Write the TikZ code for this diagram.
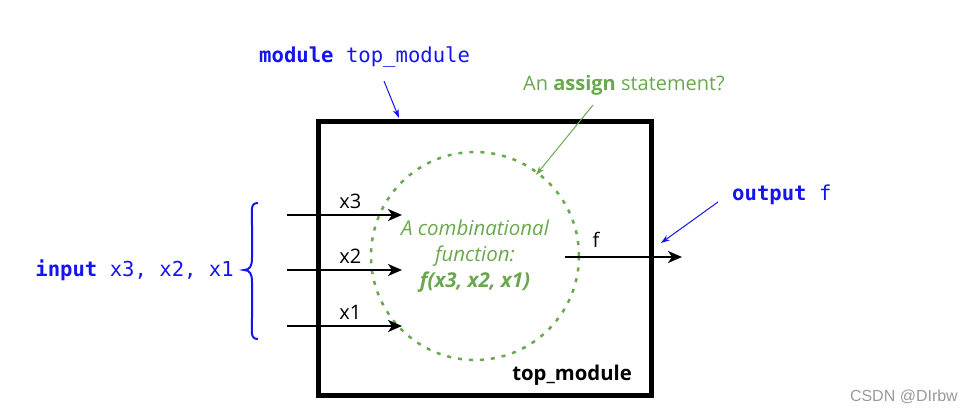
\documentclass[tikz,border=0pt]{standalone}
\usepackage{fontspec}
\setmainfont{Open Sans}
\setmonofont{DejaVu Sans Mono}
\newfontfamily\wmfont{Liberation Sans}
\usetikzlibrary{arrows.meta}
\definecolor{kwblue}{RGB}{20,20,240}
\definecolor{fgreen}{RGB}{106,168,79}
\begin{document}
\begin{tikzpicture}[x=1pt,y=-1pt,
  mono/.style={font=\fontsize{20.6}{24}\selectfont\ttfamily, text=kwblue, inner sep=0pt},
  lbl/.style={font=\fontsize{20}{24}\selectfont, inner sep=0pt},
  sig/.style={line width=2.2pt, -{Stealth[length=14pt,width=12pt,inset=4pt]}},
  callout/.style={line width=1pt, -{Stealth[length=9pt,width=6pt]}}]
\useasboundingbox (0,0) rectangle (962,415);
% module box
\node[draw, line width=5pt, minimum width=333pt, minimum height=274pt, anchor=north west, inner sep=0pt] (box) at (316,119) {};
\node[lbl, font=\fontsize{20.3}{24}\selectfont\bfseries, anchor=south east] (modname) at (632,386) {top\_module};
% combinational circle
\node[circle, draw=fgreen, line width=2.5pt, dash pattern=on 4pt off 7pt, minimum size=208pt, inner sep=0pt] (fun) at (475,256) {};
\node[font=\fontsize{20.5}{26}\selectfont\itshape, text=fgreen, align=center, inner sep=0pt] (funtext) at (475,256) {A combinational\\function:\\\textbf{f(x3, x2, x1)}};
% input arrows
\coordinate (i3) at (287,215); \coordinate (e3) at (402,215);
\coordinate (i2) at (287,270); \coordinate (e2) at (402,270);
\coordinate (i1) at (287,326); \coordinate (e1) at (402,326);
\draw[sig] (i3) -- node[lbl, above=5pt, pos=0.55] (lx3) {x3} (e3);
\draw[sig] (i2) -- node[lbl, above=5pt, pos=0.55] (lx2) {x2} (e2);
\draw[sig] (i1) -- node[lbl, above=5pt, pos=0.55] (lx1) {x1} (e1);
% output arrow
\coordinate (o0) at (565,257); \coordinate (o1) at (682,257);
\draw[sig] (o0) -- (o1);
\node[lbl] (lf) at (596,240) {f};
% brace
\draw[kwblue, line width=2pt] (258,203) .. controls (250,203) and (252,210) .. (252,225) -- (252,258) .. controls (252,266) and (250,270) .. (244,270) .. controls (250,270) and (252,274) .. (252,282) -- (252,318) .. controls (252,332) and (250,339) .. (258,339);
\node[mono, anchor=east] (inlbl) at (234,270) {\textbf{input} x3, x2, x1};
% output label
\node[mono, anchor=west] (outlbl) at (732,195) {\textbf{output} f};
\coordinate (oa) at (718,202); \coordinate (ob) at (661,243);
\draw[callout, kwblue] (oa) -- (ob);
% module label
\node[mono, anchor=west] (modlbl) at (259,57) {\textbf{module} top\_module};
\coordinate (ma) at (384,81); \coordinate (mb) at (399,118);
\draw[callout, kwblue] (ma) -- (mb);
% assign label
\node[lbl, text=fgreen, anchor=west] (assign) at (523,85) {An \textbf{assign} statement?};
\coordinate (aa) at (593,105); \coordinate (ab) at (536,175);
\draw[callout, fgreen] (aa) -- (ab);
% watermark
\node[font=\fontsize{16}{18}\selectfont\wmfont, text=black!40, inner sep=0pt, anchor=east] (wm) at (958,397) {CSDN @DIrbw};
\end{tikzpicture}
\end{document}
